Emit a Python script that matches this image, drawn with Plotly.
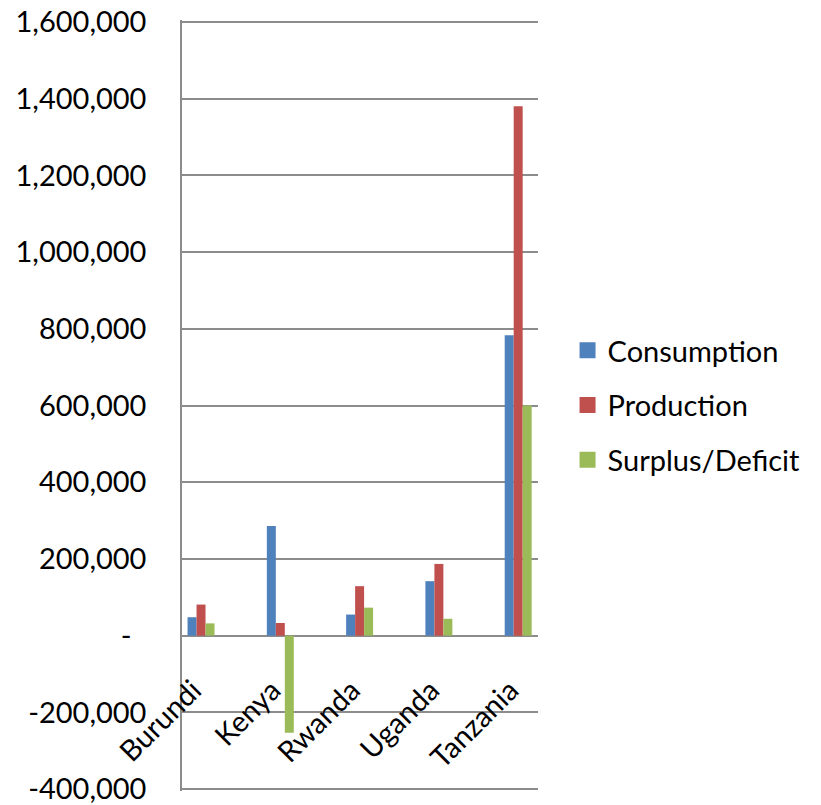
import plotly.graph_objects as go

countries = ["Burundi", "Kenya", "Rwanda", "Uganda", "Tanzania"]
consumption = [48000, 286000, 55000, 142000, 783000]
production = [81000, 33000, 129000, 187000, 1380000]
surplus = [32000, -253000, 73000, 44000, 600000]

series_names = ["Consumption", "Production", "Surplus/Deficit"]
series_colors = ["#4F81BD", "#C0504D", "#9BBB59"]

y_tickvals = [-400000, -200000, 0, 200000, 400000, 600000, 800000,
              1000000, 1200000, 1400000, 1600000]
y_ticktext = ["-400,000", "-200,000", "-\u00a0\u00a0", "200,000", "400,000",
              "600,000", "800,000", "1,000,000", "1,200,000", "1,400,000",
              "1,600,000"]

FONT = "Lato, Liberation Sans, sans-serif"
GRID = "#8C8C8C"
Y_RANGE = [-405000, 1605000]

fig = go.Figure()
for name, vals, col in zip(series_names, [consumption, production, surplus], series_colors):
    fig.add_trace(go.Bar(x=countries, y=vals, name=name, marker_color=col,
                         marker_line_width=0, showlegend=False))
# legend proxies (larger square swatches)
for i, (name, col) in enumerate(zip(series_names, series_colors)):
    fig.add_trace(go.Scatter(x=[None], y=[None], mode="markers", name=name,
                             marker=dict(symbol="square", size=16, color=col),
                             legendgroup=f"g{i}", showlegend=True))

zero_pos = (0 - Y_RANGE[0]) / (Y_RANGE[1] - Y_RANGE[0])

fig.update_layout(
    width=813, height=797,
    margin=dict(l=174, r=283, t=12, b=14, autoexpand=False),
    paper_bgcolor="white", plot_bgcolor="white",
    barmode="group", bargap=0.66, bargroupgap=0,
    font=dict(family=FONT, size=29, color="black"),
    showlegend=True,
    legend=dict(x=1.083, y=0.5, xanchor="left", yanchor="middle",
                font=dict(size=29), tracegroupgap=14, itemsizing="trace"),
    xaxis=dict(anchor="free", position=zero_pos,
               range=[-0.24, 4.25],
               showgrid=False, showline=False, zeroline=False, automargin=False,
               tickangle=-45, ticks="", ticklabelstandoff=31, ticklabelshift=-8,
               tickfont=dict(size=29)),
    yaxis=dict(range=Y_RANGE, tickvals=y_tickvals, ticktext=y_ticktext,
               showgrid=True, gridcolor=GRID, gridwidth=1.5, automargin=False,
               zeroline=True, zerolinecolor=GRID, zerolinewidth=2,
               showline=True, linecolor=GRID, linewidth=1.5,
               ticklabeloverflow="allow",
               ticks="", ticklabelstandoff=28, tickfont=dict(size=29)),
)

fig.write_html("out.html")
